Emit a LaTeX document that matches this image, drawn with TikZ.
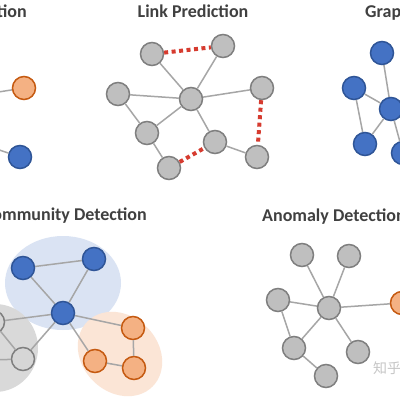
\documentclass[tikz,border=0pt]{standalone}
\usepackage{fontspec}
\setmainfont{Carlito}
\newfontfamily\cjkfont{Noto Sans CJK SC}
\definecolor{titlec}{HTML}{404040}
\definecolor{edgec}{HTML}{A6A6A6}
\definecolor{gfill}{HTML}{BFBFBF}
\definecolor{gdraw}{HTML}{7F7F7F}
\definecolor{lgfill}{HTML}{D6D6D6}
\definecolor{bfill}{HTML}{4472C4}
\definecolor{bdraw}{HTML}{2F5597}
\definecolor{ofill}{HTML}{F4B183}
\definecolor{odraw}{HTML}{C55A11}
\definecolor{redc}{HTML}{D63B2F}
\definecolor{bback}{HTML}{DAE3F3}
\definecolor{oback}{HTML}{FBE5D6}
\definecolor{gback}{HTML}{D9D9D9}
\tikzset{
  vtx/.style={circle,minimum size=23pt,inner sep=0pt,line width=1.5pt},
  gnode/.style={vtx,fill=gfill,draw=gdraw},
  lgnode/.style={vtx,fill=lgfill,draw=gdraw},
  bnode/.style={vtx,fill=bfill,draw=bdraw},
  onode/.style={vtx,fill=ofill,draw=odraw},
  edge/.style={draw=edgec,line width=1.5pt},
  redlink/.style={draw=redc,line width=4pt,dash pattern=on 4pt off 3.5pt},
  ttl/.style={font=\bfseries\fontsize{18}{20}\selectfont,text=titlec,inner sep=0pt}
}
\begin{document}
\begin{tikzpicture}[x=1pt,y=-1pt]
\useasboundingbox (0,0) rectangle (400,400);
\clip (0,0) rectangle (400,400);
\fill[white] (0,0) rectangle (400,400);

% ---------- titles ----------
\node[ttl,anchor=base east] (t1) at (27,17) {Node Classification};
\node[ttl,anchor=base] (t2) at (193,17) {Link Prediction};
\node[ttl,anchor=base west] (t3) at (365,17) {Graph Classification};
\node[ttl,anchor=base east] (t4) at (147,220) {Community Detection};
\node[ttl,anchor=base west] (t5) at (262,221) {Anomaly Detection};

% ---------- node classification (cut off) ----------
\coordinate (nc1) at (-40,98);
\coordinate (nc2) at (-30,140);
\node[onode] (nco) at (24,88) {};
\node[bnode] (ncb) at (20,157) {};
\draw[edge] (nc1) -- (nco);
\draw[edge] (nc2) -- (ncb);

% ---------- link prediction ----------
\node[gnode] (A) at (152,54) {};
\node[gnode] (B) at (223,46) {};
\node[gnode] (C) at (118,94) {};
\node[gnode] (D) at (191,99) {};
\node[gnode] (E) at (262,88) {};
\node[gnode] (F) at (147,133) {};
\node[gnode] (G) at (215,142) {};
\node[gnode] (H) at (169,168) {};
\node[gnode] (I) at (257,157) {};
\draw[edge] (A) -- (D);
\draw[edge] (B) -- (D);
\draw[edge] (C) -- (D);
\draw[edge] (E) -- (D);
\draw[edge] (C) -- (F);
\draw[edge] (F) -- (D);
\draw[edge] (D) -- (G);
\draw[edge] (F) -- (H);
\draw[edge] (G) -- (I);
\draw[redlink] (A) -- (B);
\draw[redlink] (E) -- (I);
\draw[redlink] (H) -- (G);

% ---------- graph classification (cut off) ----------
\node[bnode] (P) at (382,53) {};
\node[bnode] (Q) at (354,88) {};
\node[bnode] (R) at (391,109) {};
\node[bnode] (S) at (365,144) {};
\node[bnode] (T) at (403,153) {};
\coordinate (U) at (430,90);
\draw[edge] (P) -- (R);
\draw[edge] (Q) -- (R);
\draw[edge] (Q) -- (S);
\draw[edge] (S) -- (R);
\draw[edge] (R) -- (T);
\draw[edge] (R) -- (U);

% ---------- community detection ----------
\fill[bback] (63,283) ellipse (58 and 47);
\fill[gback] (-5,348) ellipse (43 and 44);
\fill[oback,rotate around={-45:(120,354)}] (120,354) ellipse (46 and 38);
\node[bnode] (N1) at (23,268) {};
\node[bnode] (N2) at (94,259) {};
\node[bnode] (N3) at (63,313) {};
\node[onode] (O1) at (133,328) {};
\node[onode] (O2) at (95,361) {};
\node[onode] (O3) at (134,368) {};
\node[lgnode] (G1) at (-7,322) {};
\node[lgnode] (G2) at (23,359) {};
\coordinate (G0) at (-40,361);
\draw[edge] (N1) -- (N2);
\draw[edge] (N1) -- (N3);
\draw[edge] (N2) -- (N3);
\draw[edge] (N3) -- (G1);
\draw[edge] (N3) -- (G2);
\draw[edge] (N3) -- (O1);
\draw[edge] (N3) -- (O2);
\draw[edge] (O1) -- (O3);
\draw[edge] (O2) -- (O3);
\draw[edge] (G1) -- (G2);
\draw[edge] (G0) -- (G2);

% ---------- anomaly detection ----------
\node[gnode] (a1) at (302,255) {};
\node[gnode] (a2) at (349,256) {};
\node[gnode] (a3) at (278,300) {};
\node[gnode] (a4) at (329,308) {};
\node[onode] (a5) at (402,303) {};
\node[gnode] (a6) at (294,348) {};
\node[gnode] (a7) at (358,352) {};
\node[gnode] (a8) at (326,376) {};
\draw[edge] (a1) -- (a4);
\draw[edge] (a2) -- (a4);
\draw[edge] (a3) -- (a4);
\draw[edge] (a3) -- (a6);
\draw[edge] (a6) -- (a4);
\draw[edge] (a4) -- (a7);
\draw[edge] (a6) -- (a8);
\draw[edge] (a4) -- (a5);

% ---------- watermark ----------
\node[anchor=west,inner sep=0pt,text=gray!45,font=\cjkfont\fontsize{14}{16}\selectfont] (wm) at (373,368) {知乎};
\end{tikzpicture}
\end{document}
